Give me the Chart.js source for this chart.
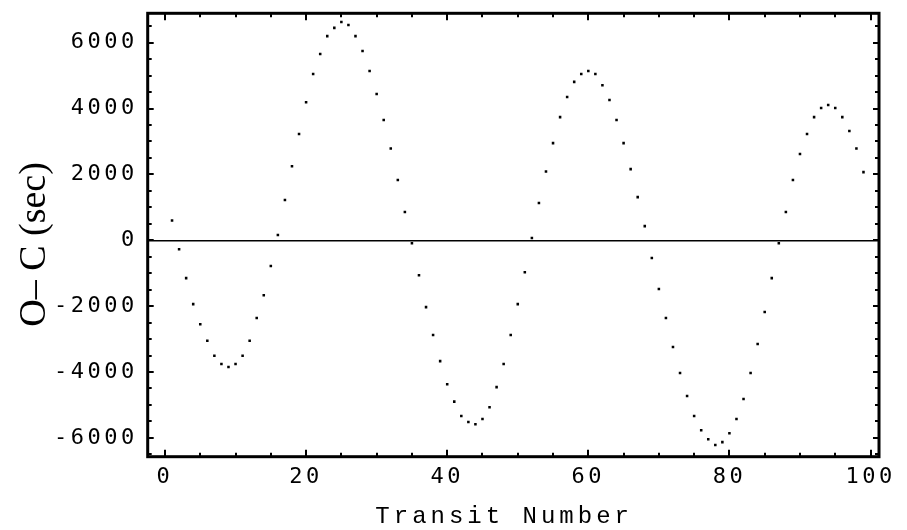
<!DOCTYPE html>
<html><head><meta charset="utf-8">
<script src="https://cdn.jsdelivr.net/npm/chart.js@4.4.0/dist/chart.umd.min.js"></script>
<style>html,body{margin:0;padding:0;background:#fff;}canvas{display:block;}</style>
</head><body>
<canvas id="c" width="907" height="530"></canvas>
<script>
const transitNumbers = [1,2,3,4,5,6,7,8,9,10,11,12,13,14,15,16,17,18,19,20,
  21,22,23,24,25,26,27,28,29,30,31,32,33,34,35,36,37,38,39,40,
  41,42,43,44,45,46,47,48,49,50,51,52,53,54,55,56,57,58,59,60,
  61,62,63,64,65,66,67,68,69,70,71,72,73,74,75,76,77,78,79,80,
  81,82,83,84,85,86,87,88,89,90,91,92,93,94,95,96,97,98,99];
const ocSeconds = [600,-270,-1150,-1940,-2550,-3050,-3510,-3760,-3850,-3760,
  -3510,-3050,-2360,-1670,-780,160,1220,2250,3230,4190,
  5050,5660,6200,6450,6630,6540,6200,5750,5140,4440,
  3650,2790,1830,860,-90,-1060,-2030,-2880,-3670,-4370,
  -4900,-5340,-5520,-5590,-5430,-5070,-4460,-3760,-2880,-1940,
  -970,70,1130,2090,2950,3740,4350,4810,5050,5140,
  5050,4710,4260,3650,2950,2160,1310,430,-540,-1480,
  -2360,-3240,-4030,-4730,-5340,-5770,-6040,-6220,-6130,-5860,
  -5430,-4820,-4030,-3150,-2180,-1150,-90,860,1830,2620,
  3230,3740,4020,4110,4020,3740,3320,2790,2070];
const xTickValues = [0,20,40,60,80,100];
const yTickValues = [-6000,-4000,-2000,0,2000,4000,6000];
const xTitle = 'Transit Number ';
const yTitle = 'O\u2013 C (sec)  ';

const spacing = { x: {labels:'3.5px', title:'4px'}, y: {labels:'3.5px', title:'0px'} };
const spacingPlugin = {
  id: 'spacing',
  afterLayout(chart) {
    for (const id of Object.keys(spacing)) {
      const s = chart.scales[id];
      if (!s || s._spaced) continue;
      s._spaced = true;
      const cfg = spacing[id];
      const oL = s.drawLabels, oT = s.drawTitle;
      s.drawLabels = function(a){ const c=this.ctx; c.save(); c.letterSpacing=cfg.labels; oL.call(this,a); c.restore(); };
      s.drawTitle = function(a){ const c=this.ctx; c.save(); c.letterSpacing=cfg.title; oT.call(this,a); c.restore(); };
    }
  }
};
const framePlugin = {
  id: 'frame',
  afterDatasetsDraw(chart) {
    const {ctx, chartArea:{left,right,top,bottom}} = chart;
    const xs = chart.scales.x, ys = chart.scales.y;
    ctx.save();
    ctx.strokeStyle = '#000';
    ctx.lineWidth = 2;
    for (let v = 0; v <= 100; v += 5) {
      const px = Math.round(xs.getPixelForValue(v));
      const len = v % 20 === 0 ? 7 : 4;
      ctx.beginPath(); ctx.moveTo(px, bottom); ctx.lineTo(px, bottom - len); ctx.stroke();
      ctx.beginPath(); ctx.moveTo(px, top); ctx.lineTo(px, top + len); ctx.stroke();
    }
    for (let v = -6500; v <= 6500; v += 500) {
      const py = Math.round(ys.getPixelForValue(v));
      const len = v % 2000 === 0 ? 6 : 4;
      ctx.beginPath(); ctx.moveTo(left, py); ctx.lineTo(left + len, py); ctx.stroke();
      ctx.beginPath(); ctx.moveTo(right, py); ctx.lineTo(right - len, py); ctx.stroke();
    }
    ctx.lineWidth = 3;
    ctx.strokeRect(left, top, right - left, bottom - top);
    ctx.restore();
  }
};

const xMin = -2.45, xMax = 101.2, yMin = -6573, yMax = 6893;
const noPadV = s => { s.paddingTop = 0; s.paddingBottom = 0; };
const noPadH = s => { s.paddingLeft = 0; s.paddingRight = 0; };

new Chart(document.getElementById('c'), {
  type: 'scatter',
  data: {
    datasets: [{
      data: transitNumbers.map((t, i) => ({x: t, y: ocSeconds[i]})),
      pointStyle: 'rect',
      pointRadius: 1.8,
      pointHoverRadius: 1.8,
      backgroundColor: '#000',
      borderWidth: 0
    }]
  },
  options: {
    responsive: false,
    devicePixelRatio: 1,
    animation: false,
    layout: { padding: 0 },
    plugins: { legend: {display:false}, tooltip: {enabled:false} },
    scales: {
      x: {
        type: 'linear', position: 'bottom', min: xMin, max: xMax,
        afterBuildTicks: s => { s.ticks = xTickValues.map(v => ({value: v})); },
        afterFit: s => { s.height = 73.3; noPadH(s); },
        ticks: { font: {family:'DejaVu Sans Mono', size:22}, color:'#000', padding:7, maxRotation:0, autoSkip:false, callback: v => String(v) },
        grid: { display:false, drawTicks:false },
        border: { display:false },
        title: { display:true, text:xTitle, color:'#000', font:{family:'Liberation Mono', size:24, lineHeight:1}, padding:{top:0, bottom:1} }
      },
      x2: {
        type: 'linear', position: 'top', min: xMin, max: xMax,
        afterFit: s => { s.height = 13.3; noPadH(s); },
        ticks: { display:false }, grid: { display:false, drawTicks:false }, border: { display:false }
      },
      y: {
        type: 'linear', position: 'left', min: yMin, max: yMax,
        afterBuildTicks: s => { s.ticks = yTickValues.map(v => ({value: v})); },
        afterFit: s => { s.width = 147.7; noPadV(s); },
        ticks: { font: {family:'DejaVu Sans Mono', size:22}, color:'#000', padding:10, autoSkip:false, callback: v => String(v) },
        grid: { display:true, drawOnChartArea:true, drawTicks:false, lineWidth:1.5,
                color: c => (c.tick && c.tick.value === 0) ? '#000' : 'rgba(0,0,0,0)' },
        border: { display:false },
        title: { display:true, text:yTitle, color:'#000', font:{family:'Liberation Serif', size:38, lineHeight:1}, padding:{top:16, bottom:0} }
      },
      y2: {
        type: 'linear', position: 'right', min: yMin, max: yMax,
        afterFit: s => { s.width = 28; noPadV(s); },
        ticks: { display:false }, grid: { display:false, drawTicks:false }, border: { display:false }
      }
    }
  },
  plugins: [spacingPlugin, framePlugin]
});
</script>
</body></html>
